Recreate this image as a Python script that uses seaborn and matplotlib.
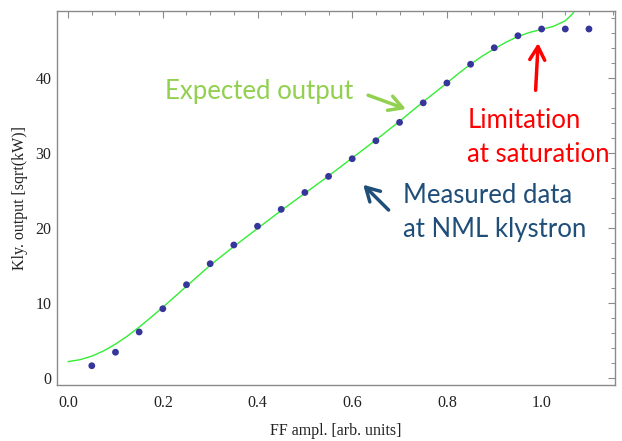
import numpy as np
import pandas as pd
import matplotlib
matplotlib.use("Agg")
import matplotlib.pyplot as plt
import seaborn as sns
from matplotlib.ticker import MultipleLocator

# Measured data (points)
meas_x = [0.05, 0.10, 0.15, 0.20, 0.25, 0.30, 0.35, 0.40, 0.45, 0.50, 0.55,
          0.60, 0.65, 0.70, 0.75, 0.80, 0.85, 0.90, 0.95, 1.00, 1.05, 1.10]
meas_y = [1.6, 3.4, 6.1, 9.2, 12.4, 15.2, 17.7, 20.2, 22.45, 24.7, 26.85,
          29.2, 31.6, 34.05, 36.65, 39.3, 41.8, 44.0, 45.6, 46.5, 46.5, 46.5]

# Expected output (curve)
exp_x = [0.0, 0.025, 0.05, 0.075, 0.10, 0.125, 0.15, 0.175, 0.20, 0.225, 0.25,
         0.30, 0.35, 0.40, 0.45, 0.50, 0.55, 0.60, 0.65, 0.70, 0.75, 0.80,
         0.825, 0.85, 0.875, 0.90, 0.925, 0.95, 0.975, 1.00, 1.025, 1.05,
         1.065, 1.08]
exp_y = [2.15, 2.4, 2.88, 3.58, 4.48, 5.55, 6.75, 8.05, 9.4, 10.8, 12.2,
         15.0, 17.5, 19.9, 22.3, 24.6, 26.9, 29.3, 31.7, 34.2, 36.8, 39.3,
         40.6, 41.8, 42.9, 43.85, 44.75, 45.5, 46.05, 46.45, 46.85, 47.6,
         48.5, 49.8]

x_label = "FF ampl. [arb. units]"
y_label = "Kly. output [sqrt(kW)]"

sns.set_theme(style="white")
plt.rcParams['font.family'] = ['Liberation Serif', 'DejaVu Serif']

fig = plt.figure(figsize=(6.22, 4.41), dpi=100)
ax = fig.add_axes([57/622, 1-385/441, (615-57)/622, (385-11)/441])

df_exp = pd.DataFrame({"x": exp_x, "y": exp_y})
df_meas = pd.DataFrame({"x": meas_x, "y": meas_y})

sns.lineplot(data=df_exp, x="x", y="y", ax=ax, color="#33ee33", linewidth=1.0,
             sort=False, estimator=None)
sns.scatterplot(data=df_meas, x="x", y="y", ax=ax, color="#35359a", s=24,
                edgecolor="none", zorder=3)

ax.set_xlim(-0.0235, 1.155)
ax.set_ylim(-0.97, 48.9)
ax.xaxis.set_major_locator(MultipleLocator(0.2))
ax.xaxis.set_minor_locator(MultipleLocator(0.05))
ax.yaxis.set_major_locator(MultipleLocator(10))
ax.yaxis.set_minor_locator(MultipleLocator(2))

for s in ax.spines.values():
    s.set_color("#8a8a8a")
    s.set_linewidth(1.0)

ax.tick_params(which="both", direction="in", top=True, right=True,
               colors="#8a8a8a", labelcolor="#222222", labelsize=11.5)
ax.tick_params(which="major", length=5, width=0.8)
ax.tick_params(which="minor", length=3, width=0.7)
ax.tick_params(axis="x", pad=7)
ax.tick_params(axis="y", pad=4)

ax.set_xlabel(x_label, fontsize=11.5, color="#222222", labelpad=9)
ax.set_ylabel(y_label, fontsize=11.5, color="#222222", labelpad=5)

afont = ['Lato', 'DejaVu Sans']
fs = 18.5
green = "#92d050"
red = "#ff0000"
blue = "#1f4e79"
astyle = "->,head_length=0.8,head_width=0.45"

ax.text(0.2056, 37.16, "Expected output", color=green, fontsize=fs,
        family=afont, va="baseline", ha="left")
ax.annotate("", xy=(0.719, 35.7), xytext=(0.628, 37.8),
            arrowprops=dict(arrowstyle=astyle, color=green, lw=2.5))

ax.text(0.843, 33.3, "Limitation", color=red, fontsize=fs,
        family=afont, va="baseline", ha="left")
ax.text(0.843, 28.76, "at saturation", color=red, fontsize=fs,
        family=afont, va="baseline", ha="left")
ax.annotate("", xy=(0.993, 45.0), xytext=(0.987, 37.96),
            arrowprops=dict(arrowstyle=astyle, color=red, lw=2.5))

ax.text(0.708, 23.3, "Measured data", color=blue, fontsize=fs,
        family=afont, va="baseline", ha="left")
ax.text(0.708, 18.76, "at NML klystron", color=blue, fontsize=fs,
        family=afont, va="baseline", ha="left")
ax.annotate("", xy=(0.619, 26.0), xytext=(0.681, 22.1),
            arrowprops=dict(arrowstyle=astyle, color=blue, lw=2.5))

fig.savefig("out.png", dpi=100)
